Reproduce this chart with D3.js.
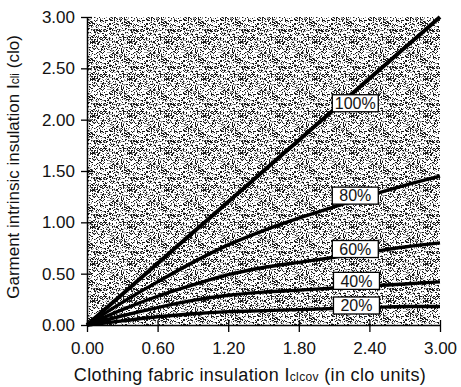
<!DOCTYPE html>
<html>
<head>
<meta charset="utf-8">
<script src="https://cdn.jsdelivr.net/npm/d3@7"></script>
<style>
  body { margin: 0; background: #fff; }
  text { font-family: "Liberation Sans", Arial, sans-serif; fill: #111; }
</style>
</head>
<body>
<svg id="chart" width="461" height="387"></svg>
<script>
// fabric insulation (clo) sampled along x
var fabricClo = [0, 0.3, 0.6, 0.9, 1.2, 1.5, 1.8, 2.1, 2.4, 2.7, 3.0];
// garment intrinsic insulation for each cover fraction
var cover100 = [0, 0.3, 0.6, 0.9, 1.2, 1.5, 1.8, 2.1, 2.4, 2.7, 3.0];
var cover80 = [0, 0.22, 0.42, 0.61, 0.78, 0.92, 1.04, 1.15, 1.26, 1.36, 1.45];
var cover60 = [0, 0.15, 0.28, 0.39, 0.49, 0.56, 0.61, 0.66, 0.71, 0.76, 0.80];
var cover40 = [0, 0.09, 0.17, 0.24, 0.29, 0.32, 0.34, 0.36, 0.38, 0.40, 0.42];
var cover20 = [0, 0.04, 0.08, 0.11, 0.13, 0.14, 0.15, 0.16, 0.17, 0.18, 0.18];
var seriesNames = ["100%", "80%", "60%", "40%", "20%"];
// where each percent tag sits (data units)
var tagX = [2.28, 2.28, 2.28, 2.29, 2.29];
var tagY = [2.16, 1.26, 0.74, 0.43, 0.19];
var xTicks = [0, 0.6, 1.2, 1.8, 2.4, 3.0];
var yTicks = [0, 0.5, 1.0, 1.5, 2.0, 2.5, 3.0];

var svg = d3.select("#chart");
var margin = { top: 17, right: 21, bottom: 62, left: 87 };
var width = 461 - margin.left - margin.right,
    height = 387 - margin.top - margin.bottom;

var x = d3.scaleLinear().domain([0, 3]).range([0, width]);
var y = d3.scaleLinear().domain([0, 3]).range([height, 0]);

// stipple background (scanned halftone look)
var defs = svg.append("defs");
var P = 37;
var pat = defs.append("pattern")
  .attr("id", "stipple")
  .attr("patternUnits", "userSpaceOnUse")
  .attr("width", P).attr("height", P);
pat.append("rect").attr("width", P).attr("height", P).attr("fill", "#fff");
function noise(i, j) {
  var s = Math.sin(i * 12.9898 + j * 78.233) * 43758.5453;
  return s - Math.floor(s);
}
for (var i = 0; i < P; i++) {
  for (var j = 0; j < P; j++) {
    var h = noise(i, j);
    if (h < 0.42) {
      pat.append("rect").attr("x", i).attr("y", j).attr("width", 1).attr("height", 1)
        .attr("fill", h < 0.26 ? "#1a1a1a" : "#9a9a9a");
    }
  }
}

var g = svg.append("g").attr("transform", "translate(" + margin.left + "," + margin.top + ")");

g.append("rect")
  .attr("width", width).attr("height", height)
  .attr("fill", "url(#stipple)")
  .attr("shape-rendering", "crispEdges");

var series = [cover100, cover80, cover60, cover40, cover20];

var line = d3.line()
  .x(function (d, i) { return x(fabricClo[i]); })
  .y(function (d) { return y(d); })
  .curve(d3.curveMonotoneX);

g.selectAll(".curve")
  .data(series)
  .enter().append("path")
  .attr("class", "curve")
  .attr("d", line)
  .attr("fill", "none")
  .attr("stroke", "#000")
  .attr("stroke-width", function (d, i) { return i == 0 ? 4 : 3.4; });

// percent tags
var tags = g.selectAll(".tag")
  .data(seriesNames)
  .enter().append("g")
  .attr("class", "tag")
  .attr("transform", function (d, i) { return "translate(" + x(tagX[i]) + "," + y(tagY[i]) + ")"; });
tags.append("rect")
  .attr("x", -23).attr("y", -8.5).attr("width", 46).attr("height", 17)
  .attr("fill", "#fff").attr("stroke", "#000").attr("stroke-width", 1.3);
tags.append("text")
  .attr("text-anchor", "middle")
  .attr("dy", "0.36em")
  .style("font-size", "16px")
  .text(function (d) { return d; });

// axes
var xAxis = g.append("g")
  .attr("transform", "translate(0," + height + ")")
  .call(d3.axisBottom(x).tickValues(xTicks).tickFormat(d3.format(".2f"))
    .tickSizeInner(7).tickSizeOuter(0).tickPadding(10));
xAxis.selectAll(".tick line").attr("y1", -5).attr("stroke-width", 1.3);
xAxis.select(".domain").attr("stroke-width", 1.5);
xAxis.selectAll("text").style("font-size", "17px").attr("fill", "#111");

var yAxis = g.append("g")
  .call(d3.axisLeft(y).tickValues(yTicks).tickFormat(d3.format(".2f"))
    .tickSizeInner(6).tickSizeOuter(0).tickPadding(6));
yAxis.selectAll(".tick line").attr("x1", 5).attr("stroke-width", 1.3);
yAxis.select(".domain").attr("stroke-width", 1.5);
yAxis.selectAll("text").style("font-size", "17px").attr("fill", "#111");

// axis titles
var xt = svg.append("text")
  .attr("x", 250)
  .attr("y", 381)
  .attr("text-anchor", "middle")
  .style("font-size", "18px")
  .style("letter-spacing", "0.35px");
xt.append("tspan").text("Clothing fabric insulation I");
xt.append("tspan").style("font-size", "12px").text("clcov");
xt.append("tspan").text(" (in clo units)");

var yt = svg.append("text")
  .attr("transform", "translate(19," + 167 + ") rotate(-90)")
  .attr("text-anchor", "middle")
  .style("font-size", "17px");
yt.append("tspan").text("Garment intrinsic insulation I");
yt.append("tspan").style("font-size", "12px").text("cli");
yt.append("tspan").text(" (clo)");
</script>
</body>
</html>
